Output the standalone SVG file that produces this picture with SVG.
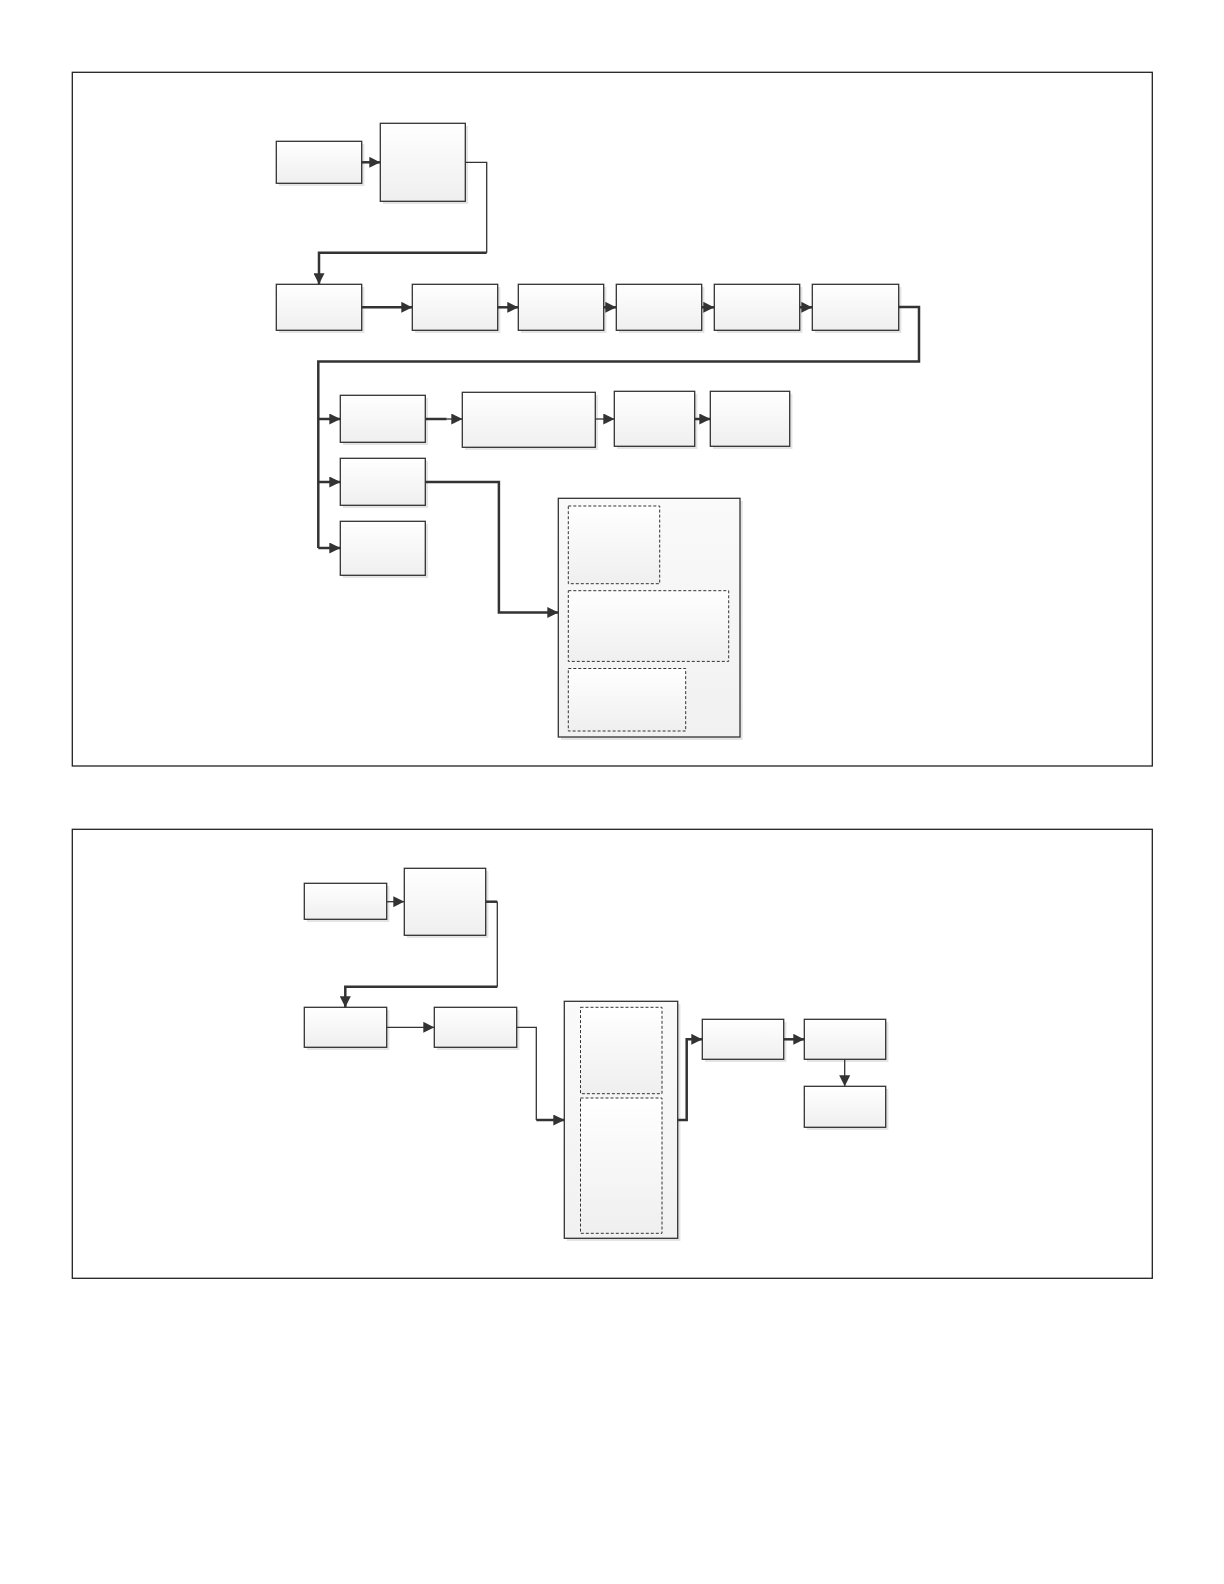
<svg xmlns="http://www.w3.org/2000/svg" width="1224" height="1584" viewBox="0 0 1224 1584">
<defs>
<linearGradient id="g" x1="0" y1="0" x2="0" y2="1"><stop offset="0" stop-color="#ffffff"/><stop offset="1" stop-color="#efefef"/></linearGradient>
<linearGradient id="gc" x1="0" y1="0" x2="0" y2="1"><stop offset="0" stop-color="#fafafa"/><stop offset="1" stop-color="#f1f1f1"/></linearGradient>
<marker id="ah" markerWidth="11" markerHeight="11" viewBox="0 0 10 10" refX="10" refY="5" orient="auto" markerUnits="userSpaceOnUse"><path d="M0,0 L10,5 L0,10 z" fill="#333"/></marker>
</defs>
<style>
.frame{fill:none;stroke:#222;stroke-width:1.3}
.sh{fill:#e4e4e4}
.box{fill:url(#g);stroke:#333;stroke-width:1.3}
.cont{fill:url(#gc);stroke:#333;stroke-width:1.3}
.dash{fill:url(#g);stroke:#333;stroke-width:1;stroke-dasharray:3,2}
.c{fill:none;stroke:#333;stroke-width:2.5}
.t{fill:none;stroke:#333;stroke-width:1.3}
.a{marker-end:url(#ah)}
</style>
<rect class="frame" x="72.3" y="72.3" width="1080" height="693.7"/>
<rect class="frame" x="72.3" y="829.3" width="1080" height="449"/>

<g id="nodes1">
<g id="A"><rect class="sh" x="279" y="144" width="85.4" height="42"/><rect class="box" x="276.3" y="141.3" width="85.4" height="42"/></g>
<g id="A2"><rect class="sh" x="383" y="126" width="85" height="78"/><rect class="box" x="380.3" y="123.3" width="85" height="78"/></g>
<g id="B1"><rect class="sh" x="279" y="287" width="85.4" height="46"/><rect class="box" x="276.3" y="284.3" width="85.4" height="46"/></g>
<g id="B2"><rect class="sh" x="415" y="287" width="85.4" height="46"/><rect class="box" x="412.3" y="284.3" width="85.4" height="46"/></g>
<g id="B3"><rect class="sh" x="521" y="287" width="85.4" height="46"/><rect class="box" x="518.3" y="284.3" width="85.4" height="46"/></g>
<g id="B4"><rect class="sh" x="619" y="287" width="85.4" height="46"/><rect class="box" x="616.3" y="284.3" width="85.4" height="46"/></g>
<g id="B5"><rect class="sh" x="717" y="287" width="85.4" height="46"/><rect class="box" x="714.3" y="284.3" width="85.4" height="46"/></g>
<g id="B6"><rect class="sh" x="815" y="287" width="86.4" height="46"/><rect class="box" x="812.3" y="284.3" width="86.4" height="46"/></g>
<g id="C1"><rect class="sh" x="343" y="398" width="85" height="47"/><rect class="box" x="340.3" y="395.3" width="85" height="47"/></g>
<g id="C2"><rect class="sh" x="343" y="461" width="85" height="47"/><rect class="box" x="340.3" y="458.3" width="85" height="47"/></g>
<g id="C3"><rect class="sh" x="343" y="524" width="85" height="54"/><rect class="box" x="340.3" y="521.3" width="85" height="54"/></g>
<g id="D1"><rect class="sh" x="465" y="395" width="133" height="55"/><rect class="box" x="462.3" y="392.3" width="133" height="55"/></g>
<g id="D2"><rect class="sh" x="617" y="394" width="80.4" height="55"/><rect class="box" x="614.3" y="391.3" width="80.4" height="55"/></g>
<g id="D3"><rect class="sh" x="713" y="394" width="79.4" height="55"/><rect class="box" x="710.3" y="391.3" width="79.4" height="55"/></g>
<g id="E"><rect class="sh" x="561" y="501" width="181.7" height="239"/><rect class="cont" x="558.3" y="498.3" width="181.7" height="238.7"/>
<rect class="dash" x="568.3" y="506" width="91.4" height="77.7"/>
<rect class="dash" x="568.3" y="590.7" width="160.4" height="70.7"/>
<rect class="dash" x="568.3" y="668.5" width="117.4" height="62.5"/></g>
</g>

<g id="nodes2">
<g id="F1"><rect class="sh" x="307" y="886" width="82.4" height="36"/><rect class="box" x="304.3" y="883.3" width="82.4" height="36"/></g>
<g id="F2"><rect class="sh" x="407" y="871" width="81.4" height="67"/><rect class="box" x="404.3" y="868.3" width="81.4" height="67"/></g>
<g id="G1"><rect class="sh" x="307" y="1010" width="82.4" height="40"/><rect class="box" x="304.3" y="1007.3" width="82.4" height="40"/></g>
<g id="G2"><rect class="sh" x="437" y="1010" width="82.4" height="40"/><rect class="box" x="434.3" y="1007.3" width="82.4" height="40"/></g>
<g id="H"><rect class="sh" x="567" y="1004" width="113.4" height="237"/><rect class="cont" x="564.3" y="1001.3" width="113.4" height="237"/>
<rect class="dash" x="580.5" y="1007.3" width="81.5" height="86.4"/>
<rect class="dash" x="580.5" y="1098" width="81.5" height="135.3"/></g>
<g id="I1"><rect class="sh" x="705" y="1022" width="81.4" height="40"/><rect class="box" x="702.3" y="1019.3" width="81.4" height="40"/></g>
<g id="I2"><rect class="sh" x="807" y="1022" width="81.4" height="40"/><rect class="box" x="804.3" y="1019.3" width="81.4" height="40"/></g>
<g id="I3"><rect class="sh" x="807" y="1089" width="81.4" height="41"/><rect class="box" x="804.3" y="1086.3" width="81.4" height="41"/></g>
</g>

<g id="connectors">
<path class="c a" d="M361.7,162.3 H380.3"/>
<path class="t" d="M465.3,162.3 H486.7 V252.7"/>
<path class="c a" d="M486.7,252.7 H319 V284.3"/>
<path class="c a" d="M361.7,307.3 H412.3"/>
<path class="c a" d="M497.7,307.3 H518.3"/>
<path class="c a" d="M603.7,307.3 H616.3"/>
<path class="c a" d="M701.7,307.3 H714.3"/>
<path class="c a" d="M799.7,307.3 H812.3"/>
<path class="c" d="M898.7,307 H919 V361.5 H318.3 V548"/>
<path class="c a" d="M318.3,419 H340.3"/>
<path class="c a" d="M318.3,482 H340.3"/>
<path class="c a" d="M318.3,548 H340.3"/>
<path class="c" d="M425.3,419 H446.7"/>
<path class="t a" d="M446.7,419 H462.3"/>
<path class="t a" d="M595.3,419 H614.3"/>
<path class="c a" d="M694.7,419 H710.3"/>
<path class="c a" d="M425.3,482 H498.9 V612.5 H558.3"/>

<path class="t a" d="M386.7,901.7 H404.3"/>
<path class="c" d="M485.7,901.7 H497.3"/>
<path class="t" d="M497.3,901.7 V986.7"/>
<path class="c a" d="M497.3,986.7 H345.3 V1007.3"/>
<path class="t a" d="M386.7,1027.3 H434.3"/>
<path class="t" d="M516.7,1027.3 H536.3 V1120"/>
<path class="c a" d="M536.3,1120 H564.3"/>
<path class="c a" d="M677.7,1120 H686.7 V1039.3 H702.3"/>
<path class="c a" d="M783.7,1039.3 H804.3"/>
<path class="t a" d="M844.7,1059.3 V1086.3"/>
</g>
</svg>
